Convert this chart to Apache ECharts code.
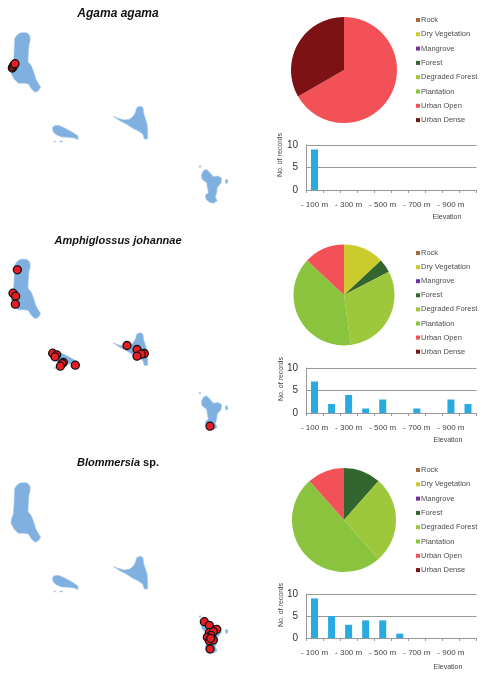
<!DOCTYPE html>
<html lang="en">
  <head>
    <meta charset="UTF-8" />
    <title>Species records</title>
    <script src="https://cdn.jsdelivr.net/npm/echarts@6/dist/echarts.min.js"></script>
    <style>
      html, body { margin: 0; padding: 0; background: #fff; }
    </style>
  </head>
  <body>
    <div id="main" style="width: 484px; height: 676px;"></div>

    <script>
      const habitats = ["Rock", "Dry Vegetation", "Mangrove", "Forest", "Degraded Forest", "Plantation", "Urban Open", "Urban Dense"];
      const habitatColors = ["#a5693c", "#cccb2e", "#7030a0", "#33652f", "#9dc83c", "#8ac43f", "#f25257", "#7d1215"];
      const elevations = ["- 100 m", "- 200 m", "- 300 m", "- 400 m", "- 500 m", "- 600 m", "- 700 m", "- 800 m", "- 900 m", "- 1000 m"];

      const agamaHabitat = [0, 0, 0, 0, 0, 0, 6, 3];
      const agamaElevation = [9, 0, 0, 0, 0, 0, 0, 0, 0, 0];
      const agamaPoints = [[37, 204], [39, 200], [42, 195], [45, 191]];

      const amphiHabitat = [0, 3, 0, 1, 7, 9, 3, 0];
      const amphiElevation = [7, 2, 4, 1, 3, 0, 1, 0, 3, 2];
      const amphiPoints = [[52, 130], [39, 200], [47, 209], [46, 233], [158, 380], [170, 385], [165, 391], [190, 408], [186, 411], [181, 419], [226, 416], [381, 357], [411, 369], [433, 381], [424, 383], [411, 389], [630, 599]];

      const blomHabitat = [0, 0, 0, 3, 7, 13, 3, 0];
      const blomElevation = [9, 5, 3, 4, 4, 1, 0, 0, 0, 0];
      const blomPoints = [[613, 515], [628, 526], [650, 538], [628, 548], [640, 545], [633, 556], [622, 562], [628, 572], [640, 570], [632, 565], [630, 597]];

      // island outlines, map units (3 per screen pixel)
      const grandeComore = [[52, 104], [62, 98], [80, 98], [89, 106], [91, 120], [87, 135], [85, 160], [84, 185], [94, 197], [101, 215], [108, 238], [122, 262], [115, 272], [106, 277], [95, 268], [85, 252], [72, 250], [55, 250], [42, 237], [33, 220], [34, 208], [40, 192], [42, 165], [43, 140], [44, 115]];
      const moheli = [[157, 384], [163, 377], [175, 376], [190, 382], [205, 390], [220, 398], [233, 407], [235, 419], [222, 414], [205, 412], [185, 411], [170, 405], [160, 397]];
      const anjouan = [[339, 349], [355, 355], [372, 360], [388, 358], [398, 350], [406, 338], [410, 323], [420, 318], [429, 323], [431, 340], [437, 358], [442, 375], [443, 395], [443, 417], [433, 417], [428, 402], [415, 393], [398, 385], [380, 373], [362, 364]];
      const mayotte = [[604, 525], [610, 512], [620, 508], [630, 518], [640, 530], [655, 528], [665, 535], [663, 550], [652, 562], [650, 578], [646, 592], [652, 602], [640, 610], [628, 607], [618, 598], [616, 585], [625, 578], [622, 562], [620, 548], [606, 538]];
      const pamandzi = [[675, 541], [681, 537], [684, 546], [679, 552]];
      const islet1 = [[597, 498], [602, 497], [603, 501], [598, 502]];
      const islet2 = [[162, 423], [166, 423], [166, 426], [162, 426]];
      const islet3 = [[180, 423], [187, 423], [187, 426], [180, 426]];
      const islands = [grandeComore, moheli, anjouan, mayotte, pamandzi, islet1, islet2, islet3];

      const panels = [
        { title: "{j|Agama agama}", mapTop: 0, points: agamaPoints, habitat: agamaHabitat, elevation: agamaElevation, titleTop: 8, pieY: 70, pieR: 53, legendTop: 16, legendPitch: 14.3, barTop: 145, barH: 45, elevX: 447, elevY: 217, nameX: 280, nameY: 155 },
        { title: "{i|Amphiglossus johannae}", mapTop: 226.5, points: amphiPoints, habitat: amphiHabitat, elevation: amphiElevation, titleTop: 235, pieY: 295, pieR: 50.5, legendTop: 249, legendPitch: 14.1, barTop: 368, barH: 45, elevX: 448, elevY: 440, nameX: 281, nameY: 379 },
        { title: "{i|Blommersia}{b| sp.}", mapTop: 450, points: blomPoints, habitat: blomHabitat, elevation: blomElevation, titleTop: 457, pieY: 520, pieR: 52, legendTop: 466, legendPitch: 14.3, barTop: 594, barH: 44, elevX: 448, elevY: 667, nameX: 281, nameY: 605 },
      ];

      const myChart = echarts.init(document.getElementById("main"));

      const titleRich = {
        i: { fontFamily: "Liberation Sans", fontSize: 11, fontWeight: "bold", fontStyle: "italic", color: "#111" },
        j: { fontFamily: "Liberation Sans", fontSize: 12, fontWeight: "bold", fontStyle: "italic", color: "#111" },
        b: { fontFamily: "Liberation Sans", fontSize: 11, fontWeight: "bold", color: "#111" },
      };

      const grid = [];
      const xAxis = [];
      const yAxis = [];
      const series = [];
      const legend = [];
      const title = [];
      const graphic = [];

      panels.forEach((p) => {
        // map
        const mapIdx = grid.length;
        grid.push({ left: 0, top: p.mapTop, width: 240, height: 220 });
        xAxis.push({ type: "value", gridIndex: mapIdx, min: 0, max: 720, show: false });
        yAxis.push({ type: "value", gridIndex: mapIdx, min: 0, max: 660, inverse: true, show: false });
        series.push({
          type: "custom",
          xAxisIndex: mapIdx,
          yAxisIndex: mapIdx,
          silent: true,
          data: islands.map((_, i) => [i]),
          renderItem: (params, api) => ({
            type: "polygon",
            shape: { points: islands[params.dataIndex].map((c) => api.coord(c)) },
            style: { fill: "#7fb0e0", stroke: "#a9cbec", lineWidth: 0.6 },
          }),
        });
        series.push({
          type: "scatter",
          xAxisIndex: mapIdx,
          yAxisIndex: mapIdx,
          silent: true,
          symbolSize: 8,
          itemStyle: { color: "#ea1c24", borderColor: "#111", borderWidth: 1.3, opacity: 1 },
          data: p.points,
        });

        // elevation bars
        const barIdx = grid.length;
        grid.push({ left: 306, top: p.barTop, width: 170.5, height: p.barH });
        xAxis.push({
          type: "category",
          gridIndex: barIdx,
          data: elevations,
          axisLine: { lineStyle: { color: "#999", width: 1 } },
          axisTick: { show: true, alignWithLabel: false, length: 3, interval: 0, lineStyle: { color: "#999" } },
          axisLabel: { interval: 1, margin: 11, fontFamily: "Liberation Sans", fontSize: 8, color: "#444", hideOverlap: false },
        });
        yAxis.push({
          type: "value",
          gridIndex: barIdx,
          min: 0,
          max: 10,
          interval: 5,
          axisLine: { show: true, lineStyle: { color: "#999" } },
          axisTick: { show: false },
          axisLabel: { margin: 8, fontFamily: "Liberation Sans", fontSize: 10, color: "#333" },
          splitLine: { lineStyle: { color: "#999", width: 1 } },
        });
        series.push({
          type: "bar",
          xAxisIndex: barIdx,
          yAxisIndex: barIdx,
          silent: true,
          barWidth: 7,
          itemStyle: { color: "#29abe2" },
          data: p.elevation,
        });

        // habitat pie
        series.push({
          type: "pie",
          center: [344, p.pieY],
          radius: p.pieR,
          silent: true,
          startAngle: 90,
          clockwise: true,
          label: { show: false },
          labelLine: { show: false },
          data: habitats.map((name, i) => ({ name: name, value: p.habitat[i], itemStyle: { color: habitatColors[i] } })),
        });
        legend.push({
          data: habitats,
          orient: "vertical",
          left: 416,
          top: p.legendTop,
          icon: "rect",
          itemWidth: 4,
          itemHeight: 4,
          itemGap: p.legendPitch - 8,
          padding: 0,
          selectedMode: false,
          textStyle: { fontFamily: "Liberation Sans", fontSize: 7.5, lineHeight: 8, color: "#4d4d4d", padding: [0, 0, 0, -4] },
        });

        title.push({
          text: p.title,
          left: 118,
          textAlign: "center",
          top: p.titleTop,
          padding: 0,
          textStyle: { rich: titleRich },
        });
        graphic.push({
          type: "text",
          x: p.elevX,
          y: p.elevY,
          silent: true,
          style: { text: "Elevation", fontFamily: "Liberation Sans", fontSize: 7, fill: "#444", textAlign: "center", textVerticalAlign: "middle" },
        });
        graphic.push({
          type: "text",
          x: p.nameX,
          y: p.nameY,
          rotation: Math.PI / 2,
          silent: true,
          style: { text: "No. of records", fontFamily: "Liberation Sans", fontSize: 7, fill: "#444", textAlign: "center", textVerticalAlign: "middle" },
        });
      });

      myChart.setOption({
        animation: false,
        backgroundColor: "#fff",
        title,
        legend,
        grid,
        xAxis,
        yAxis,
        series,
        graphic,
      });
    </script>
  </body>
</html>
